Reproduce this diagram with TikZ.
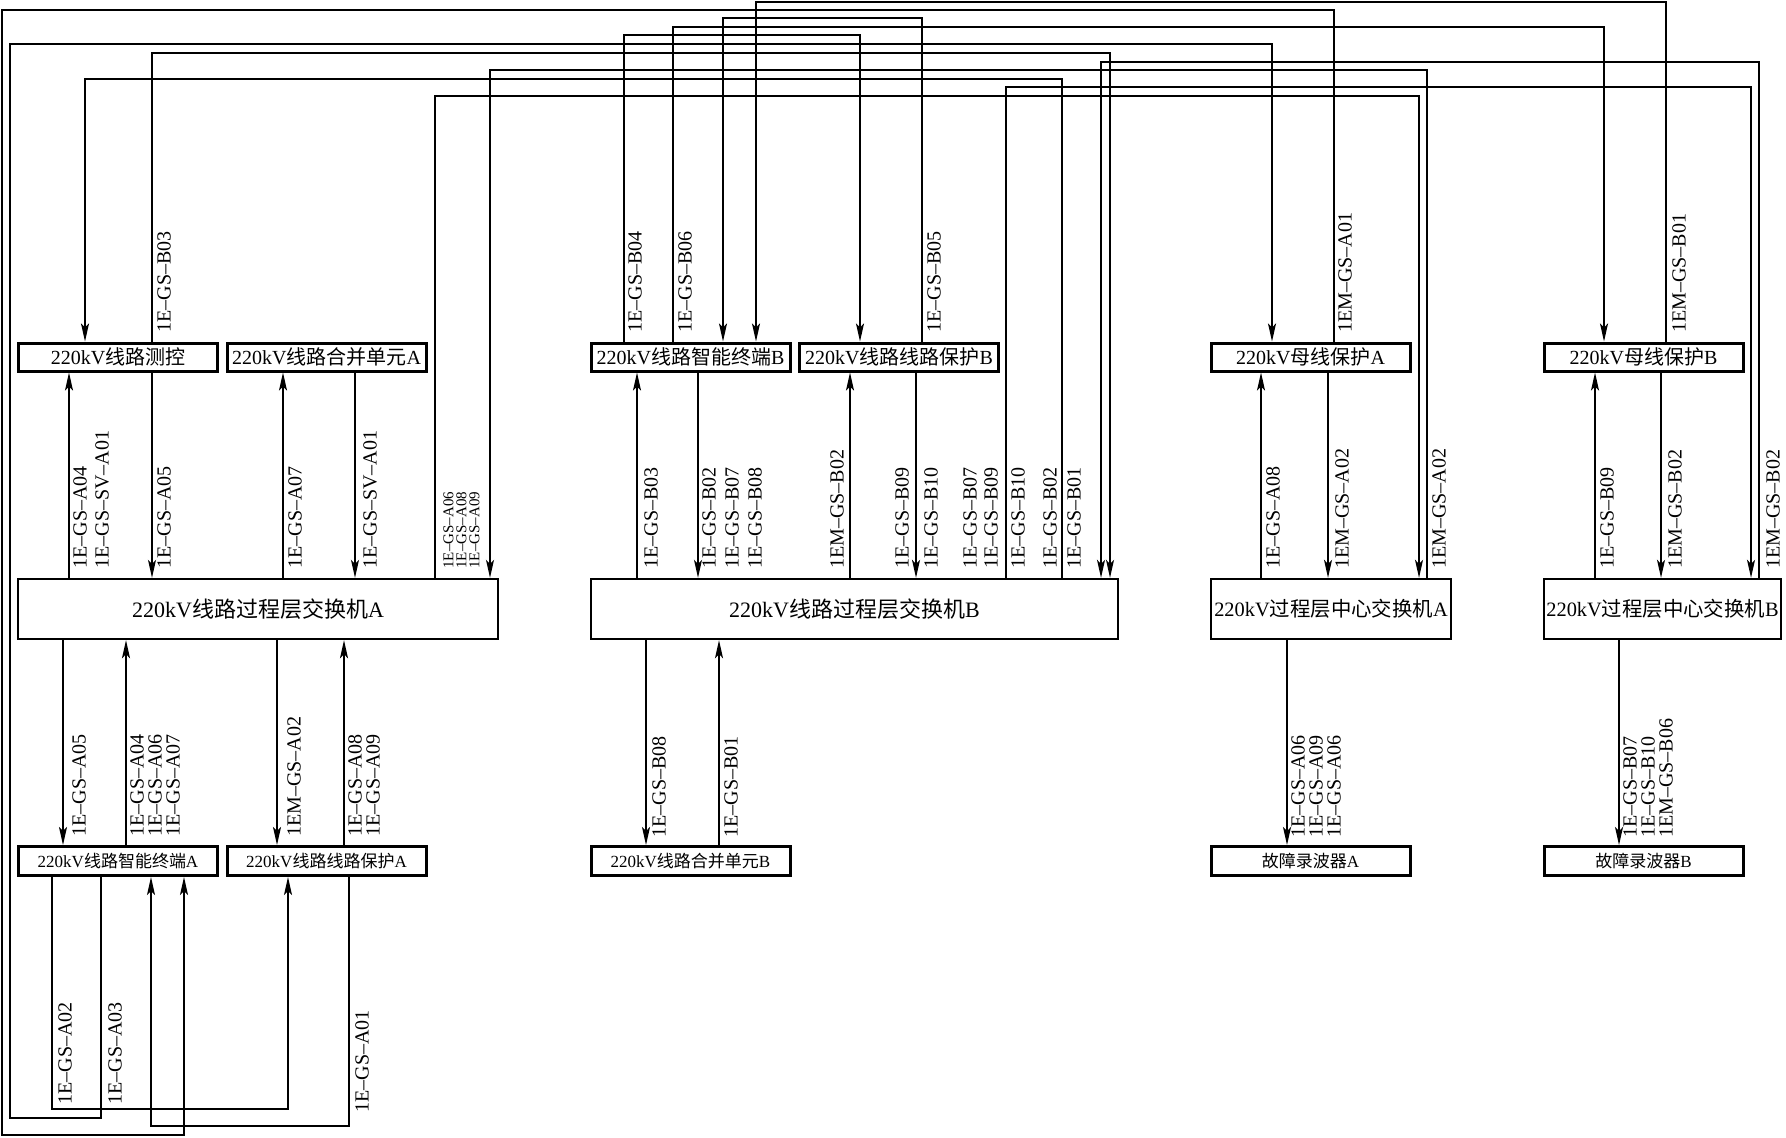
\documentclass[tikz,border=0pt]{standalone}
\usepackage{fontspec}
\setmainfont{Liberation Serif}
\newfontfamily\cjk{Noto Sans CJK SC}
\usetikzlibrary{arrows.meta}

\begin{document}
\begin{tikzpicture}[x=0.5pt,y=-0.5pt,
    unit/.style={draw,line width=1.5pt,inner sep=0pt,minimum width=99.5pt,
      minimum height=14pt,font=\fontsize{10}{12}\selectfont},
    lowunit/.style={unit,minimum height=14.5pt,font=\fontsize{8.5}{10}\selectfont},
    switch/.style={draw,line width=1.2pt,inner sep=0pt,minimum height=30pt,
      font=\fontsize{11}{13}\selectfont},
    centre/.style={switch,font=\fontsize{10.2}{12}\selectfont},
    link/.style={line width=0.7pt},
    arr/.style={link,-{Stealth[length=9pt,width=4pt,inset=2pt]}},
    lbl/.style={rotate=90,anchor=north west,inner sep=0pt,align=left,
      font=\fontsize{10}{11}\selectfont},
    tightlbl/.style={lbl,font=\fontsize{10}{9}\selectfont},
    smalllbl/.style={lbl,font=\fontsize{7.5}{6.5}\selectfont}]
  \useasboundingbox (0,0) rectangle (1786,1137);

  % Top row of devices
  \node[unit] (ck)  at (118,357)    {220kV{\cjk 线路测控}};
  \node[unit] (mua) at (326.5,357)  {220kV{\cjk 线路合并单元}A};
  \node[unit] (itb) at (690.5,357)  {220kV{\cjk 线路智能终端}B};
  \node[unit] (prb) at (899,357)    {220kV{\cjk 线路线路保护}B};
  \node[unit] (bpa) at (1310.5,357) {220kV{\cjk 母线保护}A};
  \node[unit] (bpb) at (1643.5,357) {220kV{\cjk 母线保护}B};

  % Switches
  \node[switch,minimum width=240pt]   (swa) at (258,609)    {220kV{\cjk 线路过程层交换机}A};
  \node[switch,minimum width=263.4pt] (swb) at (854.5,609)  {220kV{\cjk 线路过程层交换机}B};
  \node[centre,minimum width=120pt]   (csa) at (1331,609)   {220kV{\cjk 过程层中心交换机}A};
  \node[centre,minimum width=118.5pt] (csb) at (1662.5,609) {220kV{\cjk 过程层中心交换机}B};

  % Bottom row of devices
  \node[lowunit] (ita) at (118,861)    {220kV{\cjk 线路智能终端}A};
  \node[lowunit] (pra) at (326.5,861)  {220kV{\cjk 线路线路保护}A};
  \node[lowunit] (mub) at (690.5,861)  {220kV{\cjk 线路合并单元}B};
  \node[lowunit] (fra) at (1310.5,861) {{\cjk 故障录波器}A};
  \node[lowunit] (frb) at (1643.5,861) {{\cjk 故障录波器}B};

  % Switch A <-> top row
  \draw[arr] (swa.north -| 69,0) -- (ck.south -| 69,0);
  \draw[arr] (ck.south -| 152,0) -- (swa.north -| 152,0);
  \draw[arr] (swa.north -| 283,0) -- (mua.south -| 283,0);
  \draw[arr] (mua.south -| 355,0) -- (swa.north -| 355,0);
  % Switch B <-> top row
  \draw[arr] (swb.north -| 637,0) -- (itb.south -| 637,0);
  \draw[arr] (itb.south -| 698,0) -- (swb.north -| 698,0);
  \draw[arr] (swb.north -| 850,0) -- (prb.south -| 850,0);
  \draw[arr] (prb.south -| 916,0) -- (swb.north -| 916,0);
  % Centre switches <-> busbar protections
  \draw[arr] (csa.north -| 1261,0) -- (bpa.south -| 1261,0);
  \draw[arr] (bpa.south -| 1328,0) -- (csa.north -| 1328,0);
  \draw[arr] (csb.north -| 1595,0) -- (bpb.south -| 1595,0);
  \draw[arr] (bpb.south -| 1661,0) -- (csb.north -| 1661,0);

  % Switches -> bottom row
  \draw[arr] (swa.south -| 63,0) -- (ita.north -| 63,0);
  \draw[arr] (ita.north -| 126,0) -- (swa.south -| 126,0);
  \draw[arr] (swa.south -| 277,0) -- (pra.north -| 277,0);
  \draw[arr] (pra.north -| 344,0) -- (swa.south -| 344,0);
  \draw[arr] (swb.south -| 646,0) -- (mub.north -| 646,0);
  \draw[arr] (mub.north -| 719,0) -- (swb.south -| 719,0);
  \draw[arr] (csa.south -| 1287,0) -- (fra.north -| 1287,0);
  \draw[arr] (csb.south -| 1619,0) -- (frb.north -| 1619,0);

  % Links routed over the top
  \draw[arr] (bpb.north -| 1666,0) |- (756,2) -- (itb.north -| 756,0);
  \draw[arr] (bpa.north -| 1334,0) |- (2,10) |- (184,1135) -- (ita.south -| 184,0);
  \draw[arr] (prb.north -| 922,0) |- (723,18) -- (itb.north -| 723,0);
  \draw[arr] (itb.north -| 673,0) |- (1604,27) -- (bpb.north -| 1604,0);
  \draw[arr] (itb.north -| 624,0) |- (860,35) -- (prb.north -| 860,0);
  \draw[arr] (ita.south -| 101,0) |- (10,1118) |- (1272,44) -- (bpa.north -| 1272,0);
  \draw[arr] (ck.north -| 152,0) |- (1110,53) -- (swb.north -| 1110,0);
  \draw[arr] (csb.north -| 1759,0) |- (1101,62) -- (swb.north -| 1101,0);
  \draw[arr] (csa.north -| 1427,0) |- (490,70) -- (swa.north -| 490,0);
  \draw[arr] (swb.north -| 1062,0) |- (85,79) -- (ck.north -| 85,0);
  \draw[arr] (swb.north -| 1006,0) |- (1751,87) -- (csb.north -| 1751,0);
  \draw[arr] (swa.north -| 435,0) |- (1419,96) -- (csa.north -| 1419,0);
  % Links routed underneath
  \draw[arr] (ita.south -| 52,0) |- (288,1109) -- (pra.south -| 288,0);
  \draw[arr] (pra.south -| 349,0) |- (151,1126) -- (ita.south -| 151,0);

  % Labels above the top row
  \node[lbl] (tB03) at (157,333)  {1E--GS--B03};
  \node[lbl] (tB04) at (628,333)  {1E--GS--B04};
  \node[lbl] (tB06) at (678,333)  {1E--GS--B06};
  \node[lbl] (tB05) at (927,333)  {1E--GS--B05};
  \node[lbl] (tA01) at (1338,333) {1EM--GS--A01};
  \node[lbl] (tB01) at (1672,333) {1EM--GS--B01};

  % Labels between top row and switches
  \node[lbl] (mA04) at (73,569) {1E--GS--A04\\1E--GS--SV--A01};
  \node[lbl] (mA05) at (157,569) {1E--GS--A05};
  \node[lbl] (mA07) at (288,569) {1E--GS--A07};
  \node[lbl] (mSV)  at (363,569) {1E--GS--SV--A01};
  \node[smalllbl] (mA06) at (443,569) {1E--GS--A06\\1E--GS--A08\\1E--GS--A09};
  \node[lbl] (mB03) at (644,569) {1E--GS--B03};
  \node[lbl,font=\fontsize{10}{11.5}\selectfont] (mB02) at (702,569)
    {1E--GS--B02\\1E--GS--B07\\1E--GS--B08};
  \node[lbl] (mEB2) at (830,569) {1EM--GS--B02};
  \node[lbl] (mB09) at (895,569) {1E--GS--B09};
  \node[lbl] (mB10) at (924,569) {1E--GS--B10};
  \node[lbl,font=\fontsize{10}{10.5}\selectfont] (mB07) at (963,569)
    {1E--GS--B07\\1E--GS--B09};
  \node[lbl] (nB10) at (1011,569) {1E--GS--B10};
  \node[lbl] (nB02) at (1043,569) {1E--GS--B02};
  \node[lbl] (nB01) at (1067,569) {1E--GS--B01};
  \node[lbl] (mA08) at (1266,569) {1E--GS--A08};
  \node[lbl] (mEA2) at (1335,569) {1EM--GS--A02};
  \node[lbl] (nEA2) at (1432,569) {1EM--GS--A02};
  \node[lbl] (nB09) at (1600,569) {1E--GS--B09};
  \node[lbl] (mEB3) at (1668,569) {1EM--GS--B02};
  \node[lbl] (nEB3) at (1766,569) {1EM--GS--B02};

  % Labels between switches and bottom row
  \node[lbl] (bA05) at (72,837) {1E--GS--A05};
  \node[tightlbl] (bA04) at (130,837) {1E--GS--A04\\1E--GS--A06\\1E--GS--A07};
  \node[lbl] (bEA2) at (287,837) {1EM--GS--A02};
  \node[tightlbl] (bA08) at (348,837) {1E--GS--A08\\1E--GS--A09};
  \node[lbl] (bB08) at (652,838) {1E--GS--B08};
  \node[lbl] (bB01) at (724,838) {1E--GS--B01};
  \node[tightlbl] (bA06) at (1291,838) {1E--GS--A06\\1E--GS--A09\\1E--GS--A06};
  \node[tightlbl] (bB07) at (1623,838) {1E--GS--B07\\1E--GS--B10\\1EM--GS--B06};

  % Labels under the bottom row
  \node[lbl] (uA02) at (58,1105)  {1E--GS--A02};
  \node[lbl] (uA03) at (108,1105) {1E--GS--A03};
  \node[lbl] (uA01) at (355,1113) {1E--GS--A01};
\end{tikzpicture}
\end{document}
